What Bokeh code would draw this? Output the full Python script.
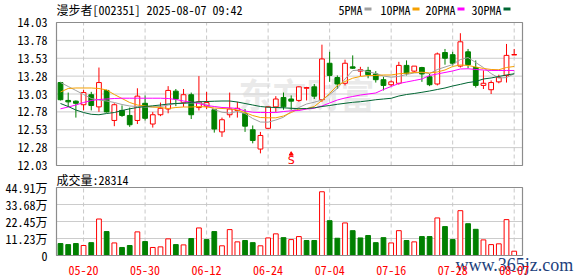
from bokeh.plotting import figure
from bokeh.models import Range1d, FixedTicker, PrintfTickFormatter, LinearAxis, ColumnDataSource
from bokeh.embed import file_html
from bokeh.resources import INLINE
from bokeh.core.properties import value

# ---------------- data ----------------
dates = ["05-15", "05-16", "05-19", "05-20", "05-21", "05-22", "05-23", "05-26", "05-27", "05-28",
         "05-29", "05-30", "06-03", "06-04", "06-05", "06-06", "06-09", "06-10", "06-11", "06-12",
         "06-13", "06-16", "06-17", "06-18", "06-19", "06-20", "06-23", "06-24", "06-25", "06-26",
         "06-27", "06-30", "07-01", "07-02", "07-03", "07-04", "07-07", "07-08", "07-09", "07-10",
         "07-11", "07-14", "07-15", "07-16", "07-17", "07-18", "07-21", "07-22", "07-23", "07-24",
         "07-25", "07-28", "07-29", "07-30", "07-31", "08-01", "08-04", "08-05", "08-06", "08-07"]
opens = [13.19, 12.94, 12.93, 12.88, 13.02, 12.85, 13.08, 12.66, 12.80, 12.73,
         12.66, 12.90, 12.61, 12.74, 12.82, 13.07, 12.91, 13.02, 12.84, 12.86,
         12.81, 12.50, 12.74, 12.80, 12.76, 12.53, 12.26, 12.55, 12.85, 12.98,
         12.96, 12.94, 13.11, 13.13, 12.95, 13.46, 13.26, 13.18, 13.41, 13.35,
         13.36, 13.31, 13.23, 13.16, 13.18, 13.43, 13.35, 13.40, 13.27, 13.17,
         13.61, 13.58, 13.42, 13.62, 13.40, 13.15, 13.09, 13.20, 13.29, 13.58]
highs = [13.20, 13.05, 12.94, 13.09, 13.06, 13.40, 13.09, 12.90, 12.87, 12.84,
         13.11, 13.01, 12.78, 12.91, 13.14, 13.10, 13.10, 13.05, 13.28, 13.06,
         12.82, 12.70, 13.05, 12.92, 12.82, 12.59, 12.50, 12.86, 13.00, 13.05,
         13.01, 13.14, 13.13, 13.17, 13.72, 13.62, 13.29, 13.51, 13.57, 13.41,
         13.41, 13.35, 13.27, 13.22, 13.48, 13.50, 13.42, 13.41, 13.31, 13.61,
         13.66, 13.62, 13.88, 13.66, 13.50, 13.36, 13.22, 13.30, 13.73, 13.66]
lows = [12.94, 12.85, 12.70, 12.80, 12.80, 12.78, 12.77, 12.58, 12.71, 12.57,
        12.61, 12.66, 12.56, 12.72, 12.76, 12.86, 12.85, 12.68, 12.80, 12.82,
        12.49, 12.43, 12.70, 12.70, 12.50, 12.34, 12.20, 12.54, 12.78, 12.81,
        12.81, 12.92, 12.94, 12.96, 12.92, 13.20, 13.10, 13.15, 13.38, 13.28,
        13.25, 13.19, 13.08, 13.14, 13.16, 13.29, 13.33, 13.20, 13.14, 13.15,
        13.44, 13.43, 13.40, 13.39, 13.12, 13.10, 13.03, 13.18, 13.19, 13.58]
closes = [12.95, 12.92, 12.90, 13.05, 12.87, 13.19, 12.78, 12.88, 12.73, 12.60,
          13.00, 12.69, 12.74, 12.83, 13.08, 12.96, 13.02, 12.74, 12.92, 12.91,
          12.54, 12.67, 12.82, 12.83, 12.58, 12.38, 12.45, 12.85, 12.96, 12.85,
          12.93, 13.13, 13.12, 13.00, 13.52, 13.29, 13.17, 13.46, 13.39, 13.37,
          13.30, 13.23, 13.15, 13.20, 13.43, 13.32, 13.42, 13.31, 13.16, 13.59,
          13.53, 13.46, 13.76, 13.44, 13.15, 13.18, 13.19, 13.26, 13.57, 13.58]
# volume in 万 (10k shares)
volumes = [7.9, 7.2, 7.9, 6.6, 8.5, 24.1, 15.8, 8.3, 5.3, 6.6,
           15.6, 9.2, 5.3, 5.7, 11.0, 7.2, 7.0, 11.2, 18.2, 10.5,
           15.8, 6.4, 17.1, 9.0, 9.9, 8.5, 6.4, 11.6, 14.3, 11.8,
           10.5, 12.5, 9.9, 9.9, 42.1, 23.0, 11.4, 21.5, 16.4, 11.6,
           13.2, 8.5, 11.8, 8.3, 16.4, 9.9, 9.0, 12.5, 12.5, 24.8,
           19.1, 10.5, 29.6, 21.0, 17.3, 10.3, 7.2, 7.7, 23.7, 2.83]
ma5 = [13.191, 13.135, 13.079, 13.023, 12.967, 12.946, 12.932, 12.911, 12.883, 12.862,
       12.855, 12.848, 12.848, 12.855, 12.876, 12.897, 12.904, 12.904, 12.911, 12.883,
       12.813, 12.775, 12.764, 12.785, 12.757, 12.687, 12.638, 12.636, 12.666, 12.705,
       12.785, 12.841, 12.890, 12.915, 12.946, 13.023, 13.107, 13.240, 13.358, 13.365,
       13.344, 13.316, 13.281, 13.265, 13.275, 13.303, 13.324, 13.331, 13.316, 13.372,
       13.407, 13.442, 13.512, 13.540, 13.470, 13.400, 13.316, 13.253, 13.260, 13.313]
ma10 = [13.058, 13.107, 13.114, 13.114, 13.114, 13.107, 13.086, 13.023, 12.967, 12.911,
        12.876, 12.862, 12.848, 12.841, 12.827, 12.841, 12.848, 12.848, 12.855, 12.848,
        12.834, 12.827, 12.823, 12.806, 12.771, 12.729, 12.701, 12.697, 12.697, 12.722,
        12.771, 12.820, 12.823, 12.855, 12.939, 13.037, 13.149, 13.205, 13.251, 13.275,
        13.289, 13.289, 13.296, 13.296, 13.313, 13.321, 13.331, 13.335, 13.324, 13.338,
        13.366, 13.415, 13.436, 13.429, 13.408, 13.387, 13.373, 13.369, 13.401, 13.415]
ma20 = [12.823, 12.848, 12.876, 12.911, 12.939, 12.953, 12.960, 12.967, 12.971, 12.971,
        12.971, 12.971, 12.971, 12.971, 12.967, 12.953, 12.932, 12.915, 12.897, 12.869,
        12.855, 12.841, 12.837, 12.827, 12.792, 12.775, 12.771, 12.771, 12.771, 12.785,
        12.795, 12.799, 12.820, 12.831, 12.862, 12.904, 12.946, 12.974, 12.995, 13.016,
        13.030, 13.044, 13.093, 13.135, 13.177, 13.198, 13.219, 13.240, 13.289, 13.310,
        13.331, 13.352, 13.380, 13.383, 13.373, 13.366, 13.359, 13.359, 13.359, 13.359]
ma30 = [12.897, 12.855, 12.806, 12.771, 12.746, 12.740, 12.757, 12.771, 12.799, 12.823,
        12.841, 12.855, 12.865, 12.876, 12.890, 12.897, 12.901, 12.911, 12.921, 12.925,
        12.929, 12.932, 12.932, 12.918, 12.897, 12.876, 12.855, 12.845, 12.841, 12.837,
        12.830, 12.824, 12.827, 12.837, 12.855, 12.869, 12.886, 12.900, 12.914, 12.922,
        12.935, 12.950, 12.960, 12.970, 13.002, 13.023, 13.037, 13.054, 13.072, 13.093,
        13.114, 13.142, 13.165, 13.190, 13.205, 13.240, 13.254, 13.275, 13.296, 13.313]
price_ticks = [12.03, 12.28, 12.53, 12.78, 13.03, 13.28, 13.53, 13.78, 14.03]
vol_ticks = [0, 11.23, 22.45, 33.68, 44.91]
vol_tick_labels = ["0", "11.23万", "22.45万", "33.68万", "44.91万"]
date_tick_idx = [3, 11, 19, 27, 35, 43, 51, 59]
signal_idx = [30]
ma_names = ["5PMA", "10PMA", "20PMA", "30PMA"]
title_text = "漫步者[002351] 2025-08-07 09:42"
vol_title = "成交量:28314"

# ---------------- styles / geometry ----------------
RED = "#ff0000"
GREEN = "#008000"
MA_COLORS = ["#a0a0a0", "#f5a000", "#ff00ff", "#006633"]
FONT = "Noto Sans Mono CJK SC"
BW = 0.62
W, H = 578, 276
X0, X1 = -0.52, 60.08            # index span of the two panels
PL, PR = 56, 522                 # panel left / right (px)
PT, PB = 22, 165                 # price panel top / bottom (px)
VT, VB = 187, 255                # volume panel top / bottom (px)
P_LO, P_HI = price_ticks[0], price_ticks[-1]
V_LO, V_HI = vol_ticks[0], vol_ticks[-1]


def xi(px):
    return X0 + (px - PL) * (X1 - X0) / (PR - PL)


def yp(py):
    return P_HI - (py - PT) * (P_HI - P_LO) / (PB - PT)


def yv(py):
    return V_HI - (py - VT) * (V_HI - V_LO) / (VB - VT)


n = len(closes)
idx = list(range(n))
up = [closes[i] >= opens[i] for i in idx]
vol_up = [closes[i] >= closes[i - 1] if i > 0 else up[i] for i in idx]


def pick(vals, mask, want=True):
    return [v for v, m in zip(vals, mask) if m == want]


up_src = ColumnDataSource(dict(x=pick(idx, up), top=pick(closes, up), bottom=pick(opens, up),
                               high=pick(highs, up), low=pick(lows, up)))
dn_src = ColumnDataSource(dict(x=pick(idx, up, False), top=pick(opens, up, False),
                               bottom=pick(closes, up, False), high=pick(highs, up, False),
                               low=pick(lows, up, False)))
doji = [i for i in idx if opens[i] == closes[i]]

p = figure(width=W, height=H, x_range=Range1d(xi(0), xi(W)), y_range=Range1d(yp(H), yp(0)),
           output_backend="svg", toolbar_location=None, min_border=0)
p.extra_y_ranges = {"vol": Range1d(yv(H), yv(0))}
p.outline_line_color = None
p.xgrid.visible = False
p.ygrid.visible = False

# price axis (left edge of the panel)
p.yaxis.fixed_location = X0
p.yaxis.ticker = FixedTicker(ticks=price_ticks)
p.yaxis.formatter = PrintfTickFormatter(format="%.2f")
# volume axis
vax = LinearAxis(y_range_name="vol", fixed_location=X0, ticker=FixedTicker(ticks=vol_ticks),
                 major_label_overrides={t: s for t, s in zip(vol_ticks, vol_tick_labels)})
p.add_layout(vax, "left")
# date axis under the volume panel
p.xaxis.y_range_name = "vol"
p.xaxis.fixed_location = V_LO
p.xaxis.ticker = FixedTicker(ticks=date_tick_idx)
p.xaxis.major_label_overrides = {i: dates[i] for i in date_tick_idx}
for ax in (p.yaxis[0], vax, p.xaxis[0]):
    ax.axis_line_color = None
    ax.major_tick_line_color = None
    ax.minor_tick_line_color = None
    ax.major_label_text_font = FONT
    ax.major_label_text_font_size = "12px"
    ax.major_label_text_color = "#000000"
    ax.major_label_standoff = 3
p.xaxis.major_label_text_color = RED
p.xaxis.major_label_standoff = 4

# grid lines and frames
GRID_H = "#cccccc"
GRID_V = "#c8c8c8"
FRAME = "#8c8c8c"
p.segment(x0=X0, x1=X1, y0=price_ticks[1:-1], y1=price_ticks[1:-1], line_color=GRID_H, line_width=1)
p.segment(x0=date_tick_idx, x1=date_tick_idx, y0=P_LO, y1=P_HI, line_color=GRID_V, line_dash="4 3")
p.segment(x0=X0, x1=X1, y0=vol_ticks[1:-1], y1=vol_ticks[1:-1], line_color=GRID_H, y_range_name="vol")
p.segment(x0=date_tick_idx, x1=date_tick_idx, y0=V_LO, y1=V_HI, line_color=GRID_V, line_dash="4 3",
          y_range_name="vol")

# watermark
p.text(x=[xi(238)], y=[yp(93)], text=["东方财富"], text_font=value("Noto Sans CJK SC"),
       text_font_style="bold", text_font_size="34px", text_color="#d9d9d9", text_alpha=0.55,
       text_baseline="middle", text_align="left")

# candles
p.segment(x0="x", y0="high", x1="x", y1="top", source=up_src, line_color=RED)
p.segment(x0="x", y0="bottom", x1="x", y1="low", source=up_src, line_color=RED)
p.vbar(x="x", top="top", bottom="bottom", width=BW, source=up_src,
       fill_color="white", line_color=RED)
p.segment(x0=[i - BW / 2 for i in doji], y0=[closes[i] for i in doji],
          x1=[i + BW / 2 for i in doji], y1=[closes[i] for i in doji], line_color=RED, line_width=1.2)
p.segment(x0="x", y0="high", x1="x", y1="low", source=dn_src, line_color=GREEN)
p.vbar(x="x", top="top", bottom="bottom", width=BW, source=dn_src,
       fill_color=GREEN, line_color=GREEN)

# moving averages
for ma, col in zip([ma5, ma10, ma20, ma30], MA_COLORS):
    p.line(idx, ma, line_color=col, line_width=1)

# signal mark
p.text(x=signal_idx, y=[yp(160)], text=["S"], text_color=RED, text_font=value("DejaVu Sans"),
       text_font_size="11px", text_baseline="middle", text_align="center")
p.scatter(x=signal_idx, y=[yp(153.5)], marker="triangle", size=4, fill_color=RED, line_color=RED)

# volume bars
p.vbar(x=pick(idx, vol_up), top=pick(volumes, vol_up), bottom=V_LO, width=BW, y_range_name="vol",
       fill_color="white", line_color=RED)
p.vbar(x=pick(idx, vol_up, False), top=pick(volumes, vol_up, False), bottom=V_LO, width=BW,
       y_range_name="vol", fill_color=GREEN, line_color=GREEN)

# panel frames
p.quad(left=[X0, X0], right=[X1, X1], bottom=[P_LO, yp(VB)], top=[P_HI, yp(VT)],
       fill_alpha=0, line_color=FRAME, line_width=1.2)

# title, legend, volume caption
p.text(x=[xi(56)], y=[yp(8.5)], text=[title_text], text_font=value(FONT), text_font_size="12px",
       text_color="#000000", text_baseline="middle")
leg_x = [338, 380, 425, 471]
for name, col, lx in zip(ma_names, MA_COLORS, leg_x):
    p.text(x=[xi(lx)], y=[yp(8.5)], text=[name], text_font=value(FONT), text_font_size="12px",
           text_color="#000000", text_baseline="middle")
    dx = lx + len(name) * 6 + 2
    p.segment(x0=[xi(dx)], x1=[xi(dx + 7)], y0=[yp(8.5)], y1=[yp(8.5)], line_color=col, line_width=3)
p.text(x=[xi(56)], y=[yp(178.5)], text=[vol_title], text_font=value(FONT), text_font_size="12px",
       text_color="#000000", text_baseline="middle")

# site watermark
p.text(x=[xi(455)], y=[yp(264)], text=["www.365jz.com"], text_font=value("Liberation Serif"),
       text_font_size="18px", text_color="#1d3f7c", text_baseline="middle")

open("out.html", "w").write(file_html(p, INLINE))
